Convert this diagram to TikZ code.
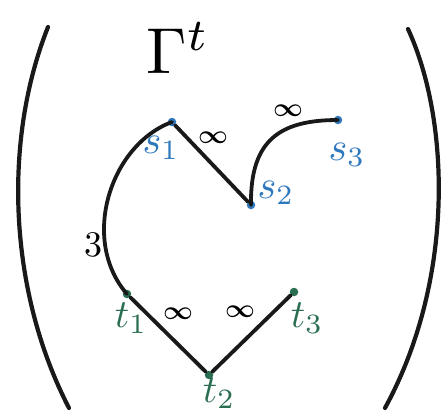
\documentclass[tikz,border=0pt]{standalone}
\usepackage{graphicx}
\usepackage{amsmath}
\definecolor{sblue}{HTML}{2E78BE}
\definecolor{tgreen}{HTML}{2A6E52}
\newcommand{\bigtxt}[2]{\scalebox{#1}{#2}}
\begin{document}
\begin{tikzpicture}[x=1pt,y=-1pt,line cap=round,
  edge/.style={line width=3.8pt,black!90},
  paren/.style={line width=4.2pt,black!90},
  spt/.style={circle,fill=sblue,inner sep=0pt,minimum size=8.5pt},
  tpt/.style={circle,fill=tgreen,inner sep=0pt,minimum size=8.5pt},
  slab/.style={text=sblue,inner sep=0pt},
  tlab/.style={text=tgreen,inner sep=0pt},
  wlab/.style={inner sep=0pt}]
\useasboundingbox (0,0) rectangle (442,415);
% parentheses
\coordinate (lp1) at (48,27); \coordinate (lp2) at (69,408);
\coordinate (rp1) at (408,29); \coordinate (rp2) at (385,408);
\draw[paren] (lp1) .. controls (3,140) and (8,290) .. (lp2);
\draw[paren] (rp1) .. controls (450,120) and (455,280) .. (rp2);
% title
\node[inner sep=0pt] (title) at (178,48) {\bigtxt{6.5}{$\Gamma^{t}$}};
% points
\node[spt] (s1) at (172,122) {};
\node[spt] (s2) at (251,205) {};
\node[spt] (s3) at (338,120) {};
\node[tpt] (t1) at (127,294) {};
\node[tpt] (t2) at (209,375) {};
\node[tpt] (t3) at (294,292) {};
% edges
\draw[edge] (s1) -- (s2);
\draw[edge] (s2.center) .. controls (250,140) and (280,120) .. (s3.center);
\draw[edge] (s1.center) .. controls (110,145) and (80,240) .. (t1.center);
\draw[edge] (t1) -- (t2);
\draw[edge] (t2) -- (t3);
% labels
\node[slab] (ls1) at (161,148) {\bigtxt{4}{$s_1$}};
\node[slab] (ls2) at (276,193) {\bigtxt{4}{$s_2$}};
\node[slab] (ls3) at (347,155) {\bigtxt{4}{$s_3$}};
\node[tlab] (lt1) at (131,318) {\bigtxt{4}{$t_1$}};
\node[tlab] (lt2) at (219,393) {\bigtxt{4}{$t_2$}};
\node[tlab] (lt3) at (307,318) {\bigtxt{4}{$t_3$}};
\node[wlab] (w1) at (213,138) {\bigtxt{2.6}{$\boldsymbol{\infty}$}};
\node[wlab] (w2) at (288,111) {\bigtxt{2.6}{$\boldsymbol{\infty}$}};
\node[wlab] (w3) at (178,314) {\bigtxt{2.6}{$\boldsymbol{\infty}$}};
\node[wlab] (w4) at (240,312) {\bigtxt{2.6}{$\boldsymbol{\infty}$}};
\node[wlab] (w5) at (93,245) {\bigtxt{3.6}{$3$}};
\end{tikzpicture}
\end{document}
